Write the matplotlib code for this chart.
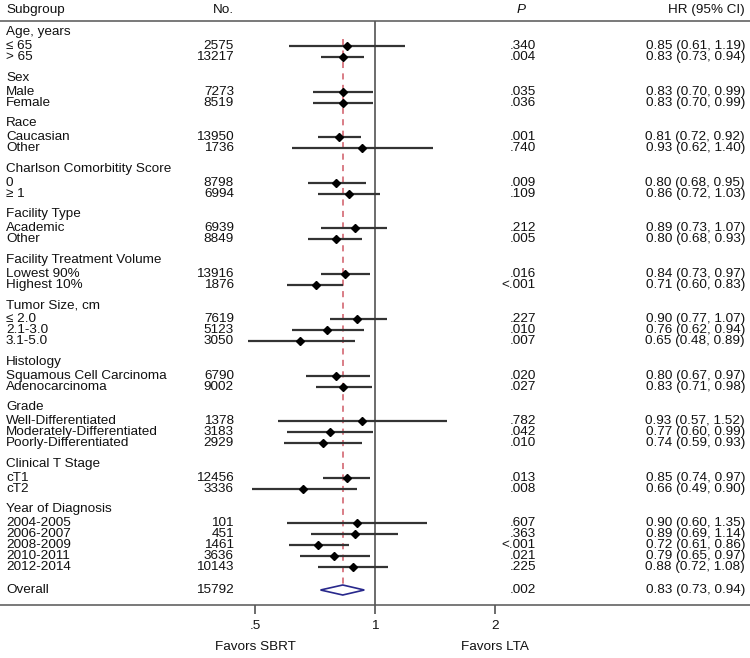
import matplotlib
matplotlib.use("Agg")
import matplotlib.pyplot as plt
import numpy as np

plt.rcParams["font.family"] = ["Liberation Sans", "DejaVu Sans"]

# ---- data ----
groups = [
    "Age, years", "Sex", "Race", "Charlson Comorbitity Score", "Facility Type",
    "Facility Treatment Volume", "Tumor Size, cm", "Histology", "Grade",
    "Clinical T Stage", "Year of Diagnosis",
]
group_sizes = [2, 2, 2, 2, 2, 2, 3, 2, 3, 2, 5]

labels = [
    "≤ 65", "> 65",
    "Male", "Female",
    "Caucasian", "Other",
    "0", "≥ 1",
    "Academic", "Other",
    "Lowest 90%", "Highest 10%",
    "≤ 2.0", "2.1-3.0", "3.1-5.0",
    "Squamous Cell Carcinoma", "Adenocarcinoma",
    "Well-Differentiated", "Moderately-Differentiated", "Poorly-Differentiated",
    "cT1", "cT2",
    "2004-2005", "2006-2007", "2008-2009", "2010-2011", "2012-2014",
]
counts = [2575, 13217, 7273, 8519, 13950, 1736, 8798, 6994, 6939, 8849,
          13916, 1876, 7619, 5123, 3050, 6790, 9002, 1378, 3183, 2929,
          12456, 3336, 101, 451, 1461, 3636, 10143]
p_vals = [".340", ".004", ".035", ".036", ".001", ".740", ".009", ".109",
          ".212", ".005", ".016", "<.001", ".227", ".010", ".007", ".020",
          ".027", ".782", ".042", ".010", ".013", ".008", ".607", ".363",
          "<.001", ".021", ".225"]
hr = [0.85, 0.83, 0.83, 0.83, 0.81, 0.93, 0.80, 0.86, 0.89, 0.80, 0.84, 0.71,
      0.90, 0.76, 0.65, 0.80, 0.83, 0.93, 0.77, 0.74, 0.85, 0.66, 0.90, 0.89,
      0.72, 0.79, 0.88]
lo = [0.61, 0.73, 0.70, 0.70, 0.72, 0.62, 0.68, 0.72, 0.73, 0.68, 0.73, 0.60,
      0.77, 0.62, 0.48, 0.67, 0.71, 0.57, 0.60, 0.59, 0.74, 0.49, 0.60, 0.69,
      0.61, 0.65, 0.72]
hi = [1.19, 0.94, 0.99, 0.99, 0.92, 1.40, 0.95, 1.03, 1.07, 0.93, 0.97, 0.83,
      1.07, 0.94, 0.89, 0.97, 0.98, 1.52, 0.99, 0.93, 0.97, 0.90, 1.35, 1.14,
      0.86, 0.97, 1.08]

overall_n = 15792
overall_p = ".002"
overall_hr, overall_lo, overall_hi = 0.83, 0.73, 0.94

# ---- row layout (pixel-like units, top = 0) ----
title_y = []
item_y = []
y = 32
for size in group_sizes:
    title_y.append(y)
    for k in range(size):
        item_y.append(y + 14 + 11 * k)
    y = item_y[-1] + 20.5
overall_y = item_y[-1] + 23

W, H = 750, 658
FS = 9.7
fig = plt.figure(figsize=(W / 100, H / 100), dpi=100)
ax = fig.add_axes([0, (H - 605) / H, 1, (605 - 21) / H])
ax.set_xscale("log")
ax.set_xlim(2 ** (-375 / 120), 2 ** ((W - 375) / 120))
ax.set_ylim(605, 21)

for s in ["left", "right"]:
    ax.spines[s].set_visible(False)
for s in ["top", "bottom"]:
    ax.spines[s].set_color("#555555")
    ax.spines[s].set_linewidth(1.1)
ax.set_yticks([])
ax.set_xticks([0.5, 1, 2])
ax.set_xticklabels([".5", "1", "2"])
ax.xaxis.set_minor_locator(matplotlib.ticker.NullLocator())
ax.tick_params(axis="x", direction="out", length=6.5, width=1.1,
               color="#444444", pad=4, labelsize=FS, labelcolor="#111111")

txt = dict(fontsize=FS, color="#111111", va="center", clip_on=False)
xt = ax.get_yaxis_transform()

# header
ax.text(6 / W, 10, "Subgroup", transform=xt, ha="left", **txt)
ax.text(234 / W, 10, "No.", transform=xt, ha="right", **txt)
ax.text(521 / W, 10, "P", transform=xt, ha="center", style="italic", **txt)
ax.text(745 / W, 10, "HR (95% CI)", transform=xt, ha="right", **txt)

for g, ty in zip(groups, title_y):
    ax.text(6 / W, ty, g, transform=xt, ha="left", **txt)

for i, yy in enumerate(item_y):
    ax.text(6 / W, yy, labels[i], transform=xt, ha="left", **txt)
    ax.text(234 / W, yy, f"{counts[i]}", transform=xt, ha="right", **txt)
    ax.text(536 / W, yy, p_vals[i], transform=xt, ha="right", **txt)
    ax.text(745 / W, yy, f"{hr[i]:.2f} ({lo[i]:.2f}, {hi[i]:.2f})",
            transform=xt, ha="right", **txt)

ax.text(6 / W, overall_y, "Overall", transform=xt, ha="left", **txt)
ax.text(234 / W, overall_y, f"{overall_n}", transform=xt, ha="right", **txt)
ax.text(536 / W, overall_y, overall_p, transform=xt, ha="right", **txt)
ax.text(745 / W, overall_y,
        f"{overall_hr:.2f} ({overall_lo:.2f}, {overall_hi:.2f})",
        transform=xt, ha="right", **txt)

# reference lines
ax.axvline(1, color="#444444", lw=1.1, zorder=1)
ax.vlines(overall_hr, 39, overall_y + 7, color="#d05a66", lw=1.1,
          linestyles=(0, (4, 3.5)), zorder=1)

# CIs and point estimates
ax.hlines(item_y, lo, hi, color="#333333", lw=1.6, zorder=2)
ax.plot(hr, item_y, "D", color="black", ms=3.7, zorder=3)

# overall diamond
ax.fill([overall_lo, overall_hr, overall_hi, overall_hr],
        [overall_y, overall_y - 5, overall_y, overall_y + 5],
        facecolor="white", edgecolor="#28288c", lw=1.2, zorder=3)

# favour labels
ax.text(0.5, 647, "Favors SBRT", ha="center", **txt)
ax.text(2, 647, "Favors LTA", ha="center", **txt)

fig.savefig("out.png", dpi=100)
